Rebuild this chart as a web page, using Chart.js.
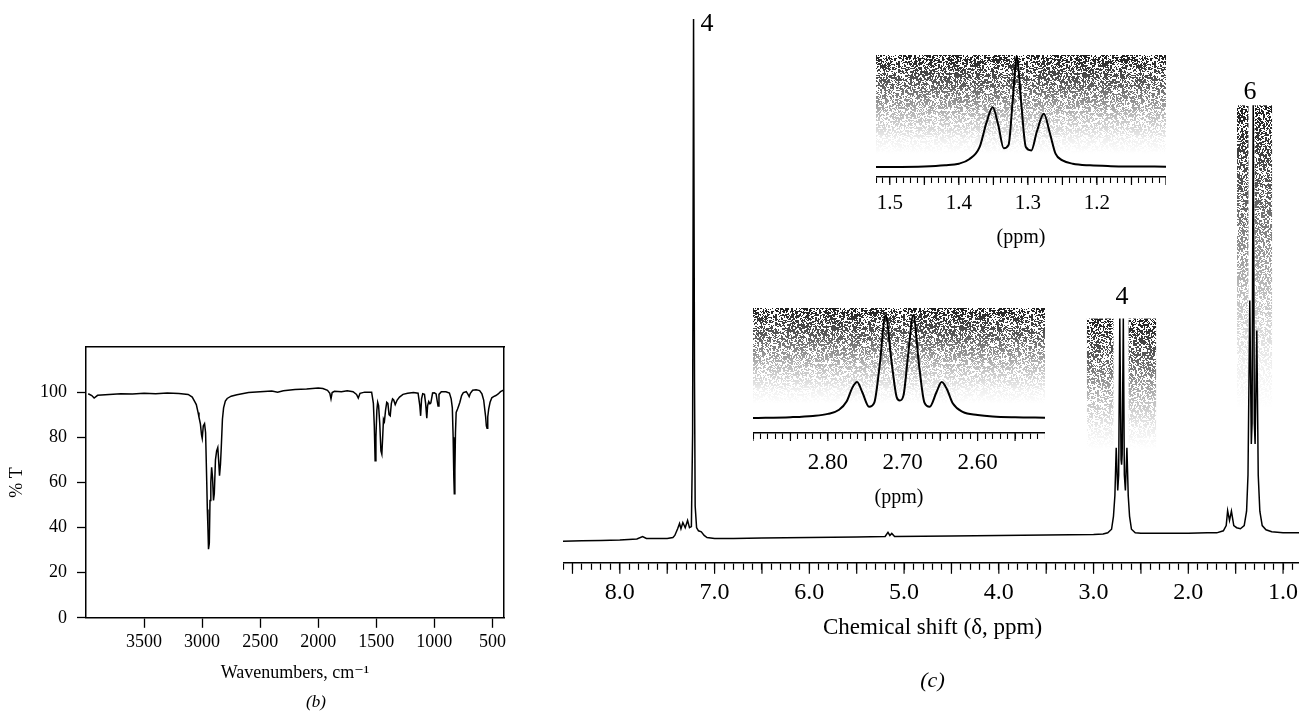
<!DOCTYPE html>
<html>
<head>
<meta charset="utf-8">
<title>IR and 1H NMR spectra</title>
<script src="https://cdn.jsdelivr.net/npm/chart.js@4.4.1/dist/chart.umd.min.js"></script>
<style>
  html, body { margin: 0; padding: 0; background: #fff; }
  body { width: 1299px; height: 713px; position: relative; overflow: hidden; }
  .panel { position: absolute; }
</style>
</head>
<body>
<div class="panel" style="left:0;top:300px;width:632px;height:413px"><canvas id="ir-chart"></canvas></div>
<div class="panel" style="left:563px;top:0;width:739px;height:694px"><canvas id="nmr-chart"></canvas></div>
<div class="panel" style="left:876px;top:55px;width:290px;height:195px"><canvas id="inset-ch3-chart"></canvas></div>
<div class="panel" style="left:753px;top:308px;width:292px;height:202px"><canvas id="inset-ch2-chart"></canvas></div>
<script>
// IR spectrum (b): wavenumber (cm-1) vs % transmittance
const irWavenumber = [
    3981, 3950, 3930, 3900, 3800, 3700, 3600, 3500, 3400, 3300, 3200, 3120, 3085, 3060, 3050, 3035,
    3027, 3015, 3005, 2999, 2990, 2979, 2970, 2960, 2955, 2950, 2945, 2938, 2932, 2925, 2918, 2910,
    2902, 2895, 2885, 2875, 2865, 2858, 2850, 2842, 2835, 2825, 2815, 2800, 2784, 2750, 2700, 2600,
    2500, 2400, 2350, 2300, 2200, 2100, 2000, 1960, 1920, 1900, 1890, 1880, 1860, 1800, 1750, 1700,
    1670, 1655, 1640, 1600, 1540, 1525, 1517, 1510, 1503, 1495, 1488, 1480, 1470, 1460, 1452, 1445,
    1438, 1430, 1420, 1410, 1400, 1390, 1380, 1370, 1360, 1350, 1337, 1320, 1300, 1270, 1230, 1180,
    1140, 1125, 1118, 1110, 1100, 1085, 1075, 1065, 1058, 1048, 1038, 1030, 1015, 1000, 985, 975,
    968, 960, 940, 900, 870, 855, 845, 838, 832, 828, 823, 818, 812, 800, 790, 780,
    765, 750, 725, 710, 700, 690, 670, 640, 610, 590, 575, 565, 558, 552, 546, 540,
    532, 520, 505, 490, 470, 450, 430, 410, 403, 401, 400
];
const irTransmittance = [
    99.3, 98.5, 97.4, 98.6, 99.0, 99.3, 99.2, 99.5, 99.3, 99.6, 99.4, 99.0, 97.8, 95.5, 94.5, 91,
    88.9, 86, 81, 79.5, 85, 86, 82, 60, 48, 40, 30.4, 33, 52, 60, 66.7, 62,
    52, 55, 70, 74, 75.5, 70, 63, 68, 75.5, 88, 93, 96, 97.2, 98.2, 98.8, 99.8,
    100.2, 100.5, 100.0, 100.6, 101.2, 101.4, 101.8, 101.6, 100.8, 99.5, 97, 99.8, 100.4, 100.2, 100.6, 100.2,
    99.0, 97.4, 99.5, 100.0, 100.0, 95, 85, 69.6, 80, 92, 95.5, 94, 86, 74, 72.5, 80,
    88, 87, 92, 95.5, 95, 90, 89.5, 95, 97, 96.5, 94.5, 96.5, 97.8, 99.0, 99.5, 99.8,
    99.5, 94, 89.5, 97, 99.3, 99, 95, 88.5, 94, 95.8, 94.8, 95.2, 99.6, 99.7, 99.2, 96,
    93.8, 99, 100.2, 100.2, 99.6, 97, 93, 80, 62, 55, 65, 82, 91, 92.5, 94, 95.5,
    98.5, 99.8, 100.2, 99, 98, 99.5, 100.8, 101, 100.7, 99.2, 96.5, 92, 89, 85, 84, 89,
    92.5, 95.5, 97.5, 98.0, 98.5, 99.2, 100.2, 100.8, 100.9, 92, 79
];
const irXTicks = [3500, 3000, 2500, 2000, 1500, 1000, 500];
const irYTicks = [0, 20, 40, 60, 80, 100];

// 1H NMR spectrum (c): chemical shift (ppm) vs intensity (% of tallest peak)
const nmrShift = [
    8.60, 8.40, 8.20, 8.00, 7.82, 7.76, 7.72, 7.50, 7.44, 7.42, 7.39, 7.37, 7.355, 7.335, 7.31, 7.285,
    7.265, 7.245, 7.232, 7.222, 7.212, 7.205, 7.19, 7.17, 7.14, 7.11, 7.08, 7.00, 6.80, 6.50, 6.00, 5.50,
    5.20, 5.17, 5.15, 5.13, 5.10, 4.50, 4.00, 3.50, 3.00, 2.90, 2.85, 2.81, 2.79, 2.775, 2.761, 2.745,
    2.735, 2.723, 2.71, 2.704, 2.698, 2.686, 2.675, 2.664, 2.648, 2.634, 2.62, 2.60, 2.56, 2.50, 2.20, 2.00,
    1.80, 1.70, 1.63, 1.60, 1.585, 1.565, 1.545, 1.52, 1.49, 1.45, 1.41, 1.385, 1.37, 1.351, 1.335, 1.327,
    1.315, 1.303, 1.295, 1.277, 1.262, 1.245, 1.22, 1.18, 1.12, 1.00, 0.80
];
const nmrIntensity = [
    -0.85, -0.75, -0.7, -0.6, -0.4, 0.1, -0.3, -0.3, -0.1, 0.3, 1.6, 2.6, 1.6, 2.8, 1.8, 3.2,
    1.8, 2.0, 20, 100.3, 30, 6, 1.8, 1.2, 1.0, 0.3, -0.1, -0.3, -0.3, -0.2, -0.1, 0,
    0.1, 0.9, 0.3, 0.7, 0.1, 0.2, 0.3, 0.4, 0.5, 0.6, 0.8, 1.5, 4.0, 8, 17.3, 9,
    12, 42.3, 15, 14, 16, 42.3, 12, 9, 17.3, 8, 4.0, 1.5, 0.8, 0.7, 0.7, 0.7,
    0.8, 0.8, 1.2, 2.2, 5.1, 3.2, 5.0, 2.2, 1.8, 1.6, 2.2, 5, 12, 45.8, 18, 22,
    83.6, 22, 18, 40, 12, 5, 2.2, 1.4, 1.0, 0.8, 0.8
];
const nmrLabelValues = [8, 7, 6, 5, 4, 3, 2, 1];
// integration numbers written over the peaks
const peakText = ['4', '4', '6'];
const peakTextShift = [7.08, 2.70, 1.35];
const peakTextHeight = [99.4, 46.4, 86.2];
// shaded integral regions (ppm range, top and fade-out intensity)
const shadeFrom = [3.07, 2.63, 1.486, 1.30];
const shadeTo = [2.79, 2.34, 1.365, 1.116];
const shadeTop = [42.3, 42.3, 83.6, 83.6];
const shadeFade = [17, 17, 25, 25];

// inset: CH3 triplet
const ch3Shift = [
    1.522, 1.45, 1.42, 1.40, 1.385, 1.37, 1.36, 1.351, 1.343, 1.335, 1.328, 1.322, 1.316, 1.310, 1.303, 1.295,
    1.287, 1.277, 1.268, 1.26, 1.25, 1.235, 1.21, 1.18, 1.15, 1.10
];
const ch3Intensity = [
    0, 0.5, 1.5, 3, 7, 18, 40, 54, 38, 17, 20, 60, 100, 60, 18, 15,
    32, 48, 30, 12, 6, 3, 1.5, 0.8, 0.5, 0.3
];
const ch3LabelValues = [1.5, 1.4, 1.3, 1.2];

// inset: CH2 quartet
const ch2Shift = [
    2.90, 2.85, 2.82, 2.80, 2.785, 2.775, 2.767, 2.761, 2.754, 2.745, 2.738, 2.731, 2.723, 2.715, 2.708, 2.704,
    2.699, 2.693, 2.686, 2.678, 2.671, 2.664, 2.655, 2.648, 2.641, 2.633, 2.62, 2.60, 2.58, 2.55, 2.51
];
const ch2Intensity = [
    0, 0.8, 2, 4, 8, 16, 30, 35, 25, 11, 15, 50, 100, 55, 20, 17,
    22, 60, 100, 50, 15, 11, 25, 35, 28, 14, 6, 3, 1.5, 0.7, 0.3
];
const ch2LabelValues = [2.8, 2.7, 2.6];

Chart.defaults.font.family = '"Liberation Serif", "DejaVu Serif", serif';
Chart.defaults.color = '#000';
Chart.defaults.animation = false;

const toPoints = (xs, ys) => xs.map((x, i) => ({ x: x, y: ys[i] }));

// tick every `step` between the scale limits, ordered like the (reversed) axis
function minorTicks(step) {
    return function (scale) {
        const out = [];
        for (let k = Math.ceil(scale.min / step - 1e-6); k * step <= scale.max + 1e-9; k++) {
            out.push({ value: Math.round(k * step * 1000) / 1000 });
        }
        if (scale.options.reverse) out.reverse();
        scale.ticks = out;
    };
}

// fixed axis height, and no extra side padding so the plot spans the whole canvas
function fixHeight(h) {
    return function (scale) {
        scale.height = h;
        scale.paddingLeft = 0;
        scale.paddingRight = 0;
    };
}

function labelIf(values, digits) {
    return function (value) {
        return values.some(v => Math.abs(v - value) < 1e-6) ? value.toFixed(digits) : '';
    };
}

function majorTicks(every, length) {
    return {
        id: 'majorTicks',
        afterDraw(chart) {
            const s = chart.scales.x;
            const ctx = chart.ctx;
            ctx.save();
            ctx.strokeStyle = '#000';
            ctx.lineWidth = 1.2;
            s.ticks.forEach(t => {
                const r = t.value / every;
                if (Math.abs(r - Math.round(r)) < 1e-6) {
                    const x = s.getPixelForValue(t.value);
                    ctx.beginPath();
                    ctx.moveTo(x, s.top);
                    ctx.lineTo(x, s.top + length);
                    ctx.stroke();
                }
            });
            ctx.restore();
        }
    };
}

// grainy grey like the printed integral shading
const speckle = document.createElement('canvas');
speckle.width = 128;
speckle.height = 128;
(function () {
    const g = speckle.getContext('2d');
    const img = g.createImageData(128, 128);
    const hash = (a, b) => {
        const h = Math.sin(a * 12.9898 + b * 78.233) * 43758.5453;
        return h - Math.floor(h);
    };
    for (let j = 0; j < 128; j++) {
        for (let i = 0; i < 128; i++) {
            const on = hash(i, j) < 0.42 || hash((i >> 1) + 300, (j >> 1) + 200) < 0.25;
            const k = (j * 128 + i) * 4;
            img.data[k] = img.data[k + 1] = img.data[k + 2] = on ? 25 : 255;
            img.data[k + 3] = 255;
        }
    }
    g.putImageData(img, 0, 0);
})();

function shade(from, to, top, fade) {
    return {
        id: 'integralShade',
        beforeDatasetsDraw(chart) {
            const { ctx, scales: { x, y } } = chart;
            ctx.save();
            from.forEach((f, i) => {
                const x0 = x.getPixelForValue(f);
                const x1 = x.getPixelForValue(to[i]);
                const y0 = y.getPixelForValue(top[i]);
                const y1 = y.getPixelForValue(fade[i]);
                const left = Math.min(x0, x1), w = Math.abs(x1 - x0), h = y1 - y0;
                ctx.fillStyle = ctx.createPattern(speckle, 'repeat');
                ctx.fillRect(left, y0, w, h);
                const g = ctx.createLinearGradient(0, y0, 0, y1);
                g.addColorStop(0, 'rgba(255,255,255,0.02)');
                g.addColorStop(0.3, 'rgba(255,255,255,0.3)');
                g.addColorStop(0.6, 'rgba(255,255,255,0.7)');
                g.addColorStop(0.85, 'rgba(255,255,255,0.93)');
                g.addColorStop(1, 'rgba(255,255,255,1)');
                ctx.fillStyle = g;
                ctx.fillRect(left - 1, y0, w + 2, h + 1);
            });
            ctx.restore();
        }
    };
}

const peakLabels = {
    id: 'peakLabels',
    afterDatasetsDraw(chart) {
        const { ctx, scales: { x, y } } = chart;
        ctx.save();
        ctx.font = '26px ' + Chart.defaults.font.family;
        ctx.fillStyle = '#000';
        ctx.textAlign = 'center';
        ctx.textBaseline = 'middle';
        peakText.forEach((t, i) => {
            ctx.fillText(t, x.getPixelForValue(peakTextShift[i]), y.getPixelForValue(peakTextHeight[i]));
        });
        ctx.restore();
    }
};

const axisBorder = { display: true, color: '#000', width: 1.5 };

// ---- (b) IR ----
new Chart(document.getElementById('ir-chart'), {
    type: 'line',
    data: {
        datasets: [{
            data: toPoints(irWavenumber, irTransmittance),
            borderColor: '#000',
            borderWidth: 1.5,
            pointRadius: 0,
            tension: 0
        }]
    },
    options: {
        responsive: true,
        maintainAspectRatio: false,
        layout: { padding: 0 },
        plugins: {
            legend: { display: false },
            tooltip: { enabled: false },
            title: {
                display: true,
                text: '(b)',
                position: 'bottom',
                font: { size: 17, style: 'italic', weight: 'normal' },
                padding: { top: 9, bottom: 0 }
            }
        },
        scales: {
            x: {
                type: 'linear',
                min: 400,
                max: 4000,
                reverse: true,
                afterBuildTicks: s => { s.ticks = irXTicks.map(v => ({ value: v })); },
                afterFit: fixHeight(65.8),
                ticks: { font: { size: 18 }, padding: 4, maxRotation: 0, autoSkip: false, callback: v => String(v) },
                grid: { drawOnChartArea: false, tickLength: 10, tickColor: '#000', tickWidth: 1.3 },
                border: axisBorder,
                title: { display: true, text: 'Wavenumbers, cm\u207B\u00B9', font: { size: 18 }, padding: { top: 0, bottom: 0 } }
            },
            y: {
                min: 0,
                max: 120,
                afterBuildTicks: s => { s.ticks = irYTicks.map(v => ({ value: v })); },
                afterFit: s => { s.width = 86; },
                ticks: { font: { size: 18 }, padding: 10, callback: v => String(v) },
                grid: { drawOnChartArea: false, tickLength: 9, tickColor: '#000', tickWidth: 1.3 },
                border: axisBorder,
                title: { display: true, text: '% T', font: { size: 18 }, padding: { top: 6, bottom: 0 } }
            },
            x2: {
                type: 'linear',
                position: 'top',
                min: 400,
                max: 4000,
                reverse: true,
                afterFit: fixHeight(47),
                ticks: { display: false },
                grid: { display: false },
                border: axisBorder
            },
            y2: {
                type: 'linear',
                position: 'right',
                min: 0,
                max: 120,
                afterFit: s => { s.width = 128; },
                ticks: { display: false },
                grid: { display: false },
                border: axisBorder
            }
        }
    }
});

// ---- (c) NMR ----
new Chart(document.getElementById('nmr-chart'), {
    type: 'line',
    data: {
        datasets: [{
            data: toPoints(nmrShift, nmrIntensity),
            borderColor: '#000',
            borderWidth: 1.5,
            pointRadius: 0,
            tension: 0
        }]
    },
    plugins: [shade(shadeFrom, shadeTo, shadeTop, shadeFade), peakLabels, majorTicks(0.5, 11)],
    options: {
        responsive: true,
        maintainAspectRatio: false,
        layout: { padding: 0, autoPadding: false },
        plugins: {
            legend: { display: false },
            tooltip: { enabled: false },
            title: {
                display: true,
                text: '(c)',
                position: 'bottom',
                font: { size: 22, style: 'italic', weight: 'normal' },
                padding: { top: 26, bottom: 0 }
            }
        },
        scales: {
            x: {
                type: 'linear',
                min: 0.8,
                max: 8.6,
                reverse: true,
                afterBuildTicks: minorTicks(0.1),
                afterFit: fixHeight(78.8),
                ticks: { font: { size: 24 }, padding: 8.6, maxRotation: 0, minRotation: 0, autoSkip: false, callback: labelIf(nmrLabelValues, 1) },
                grid: { drawOnChartArea: false, tickLength: 7, tickColor: '#000', tickWidth: 1.2 },
                border: axisBorder,
                title: { display: true, text: 'Chemical shift (\u03B4, ppm)', font: { size: 23 }, padding: { top: 0, bottom: 0 } }
            },
            y: { display: false, min: -5, max: 104 }
        }
    }
});

function insetChart(id, xs, ys, min, max, yMin, yMax, labels, digits, labelSize, labelPad, axisHeight, fade) {
    new Chart(document.getElementById(id), {
        type: 'line',
        data: {
            datasets: [{
                data: toPoints(xs, ys),
                borderColor: '#000',
                borderWidth: 2,
                pointRadius: 0,
                cubicInterpolationMode: 'monotone'
            }]
        },
        plugins: [shade([max], [min], [yMax], [fade]), majorTicks(0.05, 8)],
        options: {
            responsive: true,
            maintainAspectRatio: false,
            layout: { padding: 0, autoPadding: false },
            plugins: { legend: { display: false }, tooltip: { enabled: false } },
            scales: {
                x: {
                    type: 'linear',
                    min: min,
                    max: max,
                    reverse: true,
                    afterBuildTicks: minorTicks(0.01),
                    afterFit: fixHeight(axisHeight),
                    ticks: { font: { size: labelSize }, padding: labelPad, maxRotation: 0, minRotation: 0, autoSkip: false, callback: labelIf(labels, digits) },
                    grid: { drawOnChartArea: false, tickLength: 6, tickColor: '#000', tickWidth: 1.1 },
                    border: axisBorder,
                    title: { display: true, text: '(ppm)', font: { size: 20 }, padding: { top: 0, bottom: 0 } }
                },
                y: { display: false, min: yMin, max: yMax }
            }
        }
    });
}

insetChart('inset-ch3-chart', ch3Shift, ch3Intensity, 1.10, 1.52, -9, 101, ch3LabelValues, 1, 21, 8, 73, 12);
insetChart('inset-ch2-chart', ch2Shift, ch2Intensity, 2.51, 2.90, -14.6, 107, ch2LabelValues, 2, 23, 10, 77, 14);
</script>
</body>
</html>
